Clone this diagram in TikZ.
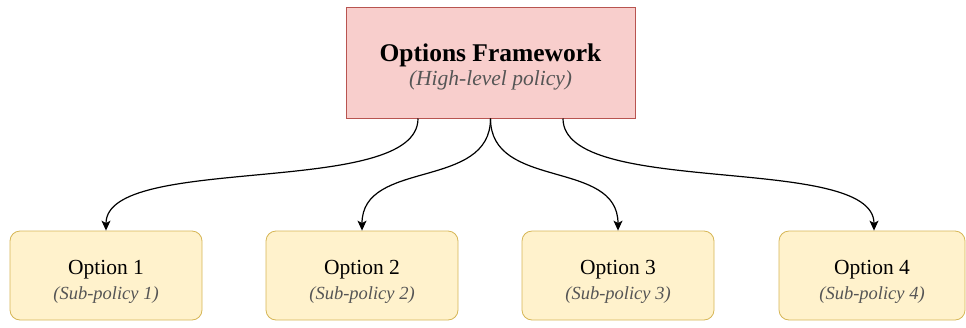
\documentclass[tikz,border=0pt]{standalone}
\usepackage{fontspec}
\setmainfont{Liberation Serif}
\usetikzlibrary{arrows.meta}

\definecolor{policyfill}{HTML}{F8CECC}
\definecolor{policyline}{HTML}{B85450}
\definecolor{optfill}{HTML}{FFF2CC}
\definecolor{optline}{HTML}{D6B656}
\definecolor{subtext}{HTML}{555555}

% two-line label: main line, then a grey italic sub-line
\newcommand{\optlabel}[2]{\rule{0pt}{27pt}\fontsize{21.5}{26}\selectfont #1\\[7pt]
  \fontsize{18.5}{23}\selectfont\itshape\color{subtext}#2}

\tikzset{
  x=1pt, y=1pt,
  policybox/.style={draw=policyline, fill=policyfill, line width=1pt,
    minimum width=289pt, minimum height=111pt, inner sep=0pt, align=center},
  optionbox/.style={draw=optline, fill=optfill, line width=0.8pt, rounded corners=10pt,
    minimum width=192pt, minimum height=89pt, inner sep=0pt, align=center},
  link/.style={line width=1.2pt, black, -{Stealth[length=10pt,width=9pt,inset=2.5pt]}},
}

\begin{document}
\begin{tikzpicture}
  \useasboundingbox (0,0) rectangle (966,-327);

  % high-level policy
  \node[policybox] (top) at (490.5,-62.5)
    {\rule{0pt}{26pt}\fontsize{25.5}{30}\selectfont\bfseries Options Framework\\[3pt]
     \fontsize{21.5}{26}\selectfont\itshape\color{subtext}(High-level policy)};

  % options
  \node[optionbox] (o1) at (106,-275.5) {\optlabel{Option 1}{(Sub-policy 1)}};
  \node[optionbox] (o2) at (362,-275.5) {\optlabel{Option 2}{(Sub-policy 2)}};
  \node[optionbox] (o3) at (618,-275.5) {\optlabel{Option 3}{(Sub-policy 3)}};
  \node[optionbox, minimum width=186pt] (o4) at (872,-275.5) {\optlabel{Option 4}{(Sub-policy 4)}};

  % curved connectors
  \draw[link] ([xshift=-72.5pt]top.south) .. controls +(0,-80) and +(0,78) .. (o1.north);
  \draw[link] (top.south) .. controls +(0,-72) and +(0,72) .. (o2.north);
  \draw[link] (top.south) .. controls +(0,-72) and +(0,72) .. (o3.north);
  \draw[link] ([xshift=72.5pt]top.south) .. controls +(0,-80) and +(0,78) .. ([xshift=2pt]o4.north);
\end{tikzpicture}
\end{document}
